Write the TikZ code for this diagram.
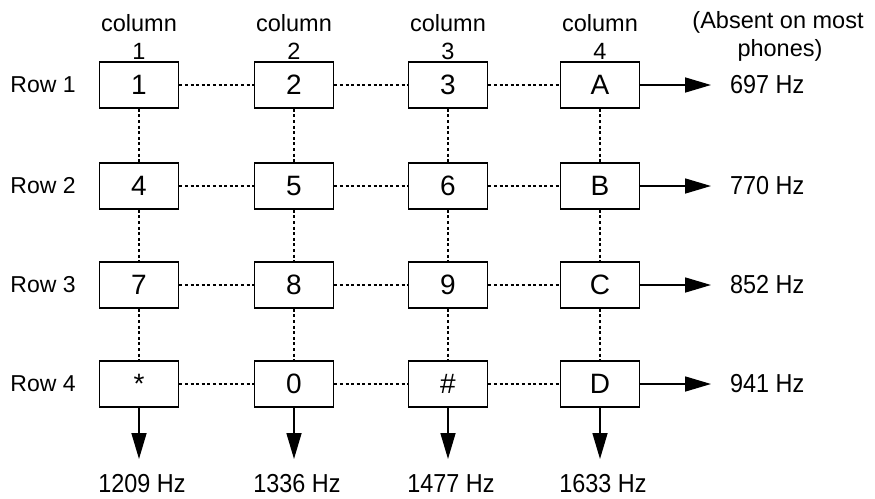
\documentclass[tikz,border=0pt]{standalone}
\usepackage{fontspec}
\setmainfont{Liberation Sans}
\newfontfamily\narrowsans[FakeStretch=0.9]{Liberation Sans}
\usetikzlibrary{arrows.meta}
\begin{document}
\begin{tikzpicture}[x=1pt,y=-1pt,
  key/.style={draw,line width=1.6pt,minimum width=79pt,minimum height=46pt,
    inner sep=0pt,font=\fontsize{28}{28}\selectfont},
  lbl/.style={inner sep=0pt,font=\fontsize{23.5}{24}\selectfont},
  hz/.style={inner sep=0pt,font=\narrowsans\fontsize{26}{26}\selectfont},
  rowlbl/.style={inner sep=0pt,font=\fontsize{23}{23}\selectfont},
  link/.style={line width=1.8pt,dash pattern=on 3pt off 2.6pt},
  tone/.style={line width=1.6pt,-{Triangle[length=26pt,width=15pt]}}]
\useasboundingbox (0,0) rectangle (875,498);

% keypad: 4 rows x 4 columns
\foreach \r/\y [count=\i] in {1/85,2/186,3/285,4/384}{
  \node[rowlbl] (row\i) at (43,\y) {Row \r};
}
\node[key] (k11) at (139,85) {1};
\node[key] (k12) at (294,85) {2};
\node[key] (k13) at (448,85) {3};
\node[key] (k14) at (600,85) {A};
\node[key] (k21) at (139,186) {4};
\node[key] (k22) at (294,186) {5};
\node[key] (k23) at (448,186) {6};
\node[key] (k24) at (600,186) {B};
\node[key] (k31) at (139,285) {7};
\node[key] (k32) at (294,285) {8};
\node[key] (k33) at (448,285) {9};
\node[key] (k34) at (600,285) {C};
\node[key] (k41) at (139,384) {*};
\node[key] (k42) at (294,384) {0};
\node[key] (k43) at (448,384) {\#};
\node[key] (k44) at (600,384) {D};

% column headings
\foreach \c/\x in {1/139,2/294,3/448,4/600}{
  \node[lbl] (colw\c) at (\x,23) {column};
  \node[lbl] (coln\c) at (\x,51) {\c};
}
\node[lbl] (absent1) at (778,22) {(Absent on most};
\node[lbl] (absent2) at (780,50) {phones)};

% dotted grid links
\foreach \r in {1,...,4}{
  \draw[link] (k\r1) -- (k\r2);
  \draw[link] (k\r2) -- (k\r3);
  \draw[link] (k\r3) -- (k\r4);
}
\foreach \c in {1,...,4}{
  \draw[link] (k1\c) -- (k2\c);
  \draw[link] (k2\c) -- (k3\c);
  \draw[link] (k3\c) -- (k4\c);
}

% row tones
\foreach \r/\y/\f in {1/85/697,2/186/770,3/285/852,4/384/941}{
  \coordinate (rt\r) at (711,\y);
  \draw[tone] (k\r4.east) -- (rt\r);
  \node[hz,anchor=west] (rf\r) at (730,\y) {\f{} Hz};
}

% column tones
\foreach \c/\x/\f in {1/139/1209,2/294/1336,3/448/1477,4/600/1633}{
  \coordinate (ct\c) at (\x,459);
  \draw[tone] (k4\c.south) -- (ct\c);
  \node[hz] (cf\c) at (\x+3,484) {\f{} Hz};
}
\end{tikzpicture}
\end{document}
